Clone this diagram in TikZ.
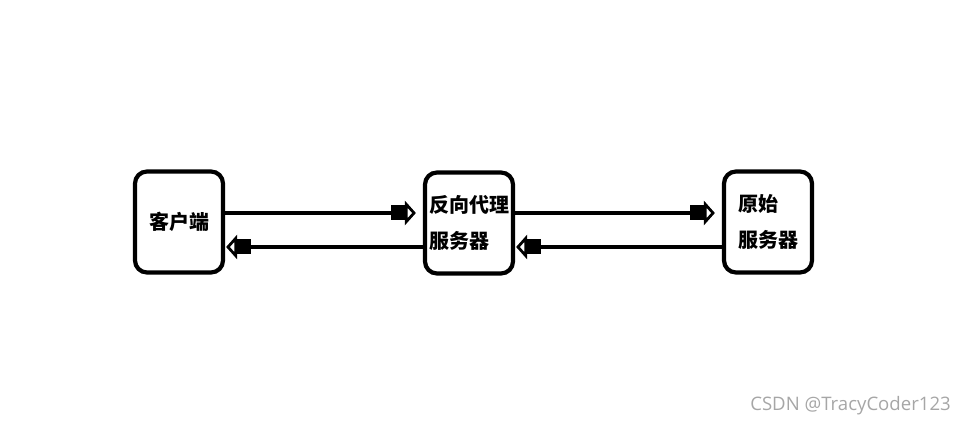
\documentclass[tikz,border=0pt]{standalone}
\usepackage{fontspec}
\newfontfamily\cjk{Noto Sans CJK SC}
\setsansfont{Open Sans}
\usetikzlibrary{arrows.meta,positioning,calc}
\definecolor{ink}{HTML}{000000}
\definecolor{mark}{HTML}{A6A6A6}
\tikzset{server/.style={draw=ink,line width=4.2pt,rounded corners=12pt,
  minimum width=88pt,minimum height=101pt,inner sep=0pt,align=left,
  font=\cjk\bfseries\fontsize{20}{36}\selectfont},
  flow/.style={line width=4.2pt,draw=ink,
  -{Rectangle[length=14pt,width=15pt]Triangle[open,length=11pt,width=24pt,line width=3pt]}}}

\begin{document}
\begin{tikzpicture}[x=1pt,y=-1pt]
\useasboundingbox (0,0) rectangle (966,427);
\node[server] (client) at (179,222) {客户端};
\node[server] (proxy) at (469,223) {反向代理\\服务器};
\node[server] (origin) at (768,222) {原始\\服务器};
\draw[flow,shorten >=7pt] (client.east|-0,213)--(proxy.west|-0,213);
\draw[flow,shorten >=7pt] (proxy.east|-0,213)--(origin.west|-0,213);
\draw[flow,shorten >=1pt] (proxy.west|-0,247)--(client.east|-0,247);
\draw[flow,shorten >=1pt] (origin.west|-0,247)--(proxy.east|-0,247);
\node[anchor=east,inner sep=0pt,text=mark,font=\sffamily\fontsize{18.6}{21}\selectfont] (wm) at (951,406) {CSDN @TracyCoder123};
\end{tikzpicture}
\end{document}
